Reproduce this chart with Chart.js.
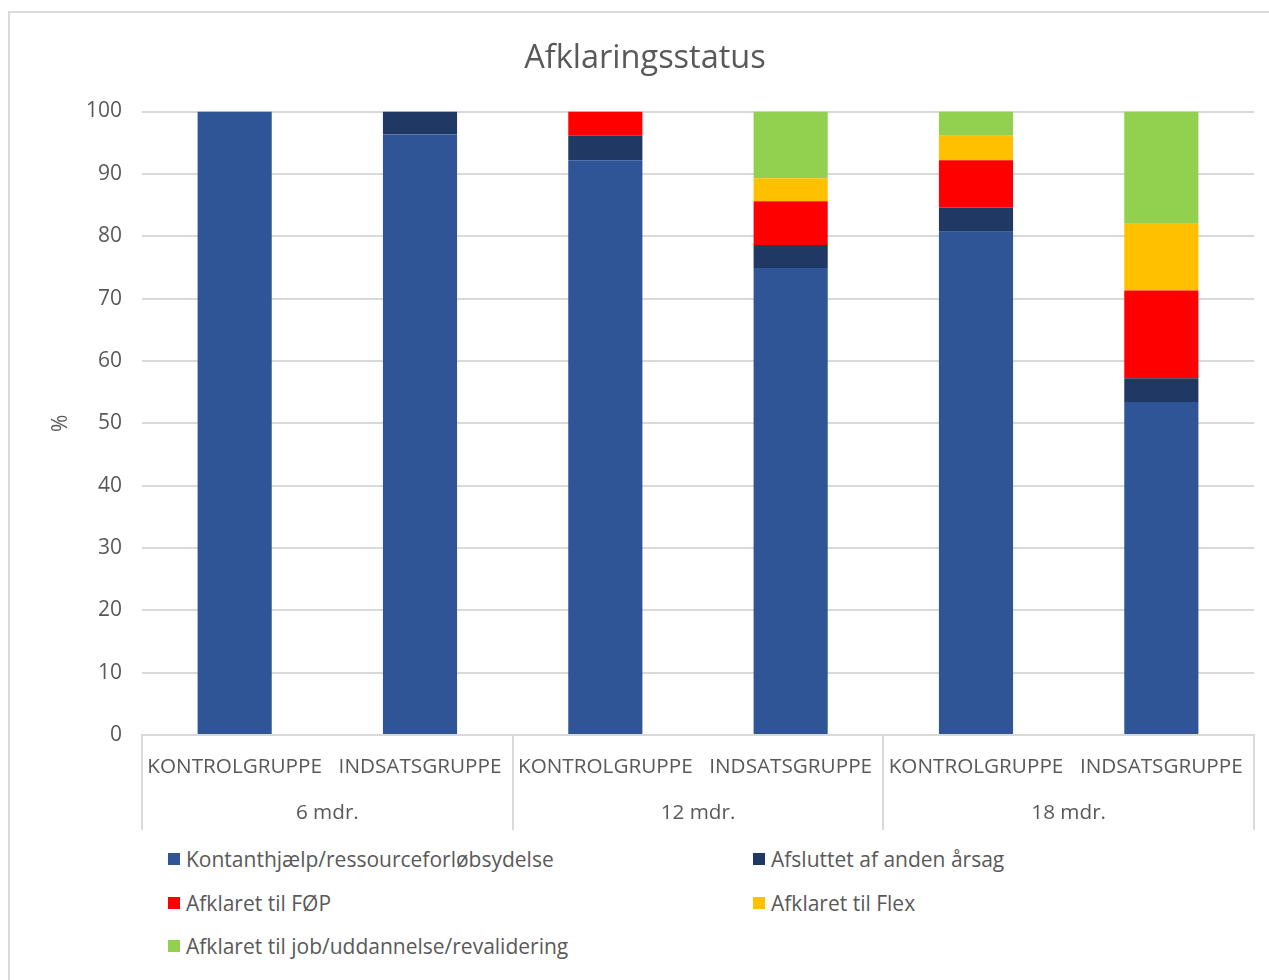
<!DOCTYPE html>
<html>
<head>
<meta charset="utf-8">
<script src="https://cdn.jsdelivr.net/npm/chart.js@4.4.1/dist/chart.umd.min.js"></script>
<style>
  html, body { margin: 0; padding: 0; background: #fff; }
  body { width: 1269px; height: 980px; position: relative; overflow: hidden; font-family: "Open Sans", sans-serif; }
  #frame { position: absolute; left: 8px; top: 11px; width: 1300px; height: 1000px; border: 2px solid #d9d9d9; }
  #wrap { position: absolute; left: 0; top: 0; width: 1269px; height: 832px; }
  #legend { position: absolute; left: 0; top: 836px; width: 1269px; }
  .item { position: absolute; display: flex; align-items: center; font-size: 21px; color: #595959; white-space: nowrap; line-height: 24px; }
  .box { width: 12px; height: 12px; margin-right: 6px; }
</style>
</head>
<body>
<div id="frame"></div>
<div id="wrap"><canvas id="chart" width="1269" height="832"></canvas></div>
<div id="legend"></div>
<script>
// Categories (lower row) and period groups (upper row)
const categories = ['KONTROLGRUPPE', 'INDSATSGRUPPE', 'KONTROLGRUPPE', 'INDSATSGRUPPE', 'KONTROLGRUPPE', 'INDSATSGRUPPE'];
const periods = ['6 mdr.', '12 mdr.', '18 mdr.'];

// Share of people (%) per status
const kontanthjaelp = [100, 96.3, 92.2, 74.9, 80.7, 53.4];
const afsluttet     = [0, 3.7, 3.9, 3.7, 3.9, 3.8];
const foep          = [0, 0, 3.9, 7.0, 7.6, 14.1];
const flex          = [0, 0, 0, 3.7, 3.9, 10.7];
const job           = [0, 0, 0, 10.7, 3.9, 18.0];

const seriesNames = [
  'Kontanthjælp/ressourceforløbsydelse',
  'Afsluttet af anden årsag',
  'Afklaret til FØP',
  'Afklaret til Flex',
  'Afklaret til job/uddannelse/revalidering'
];
const seriesColors = ['#2F5597', '#203864', '#FF0000', '#FFC000', '#92D050'];
const seriesValues = [kontanthjaelp, afsluttet, foep, flex, job];

const textColor = '#595959';
const lineColor = '#d9d9d9';

function build() {
  Chart.defaults.font.family = '"Open Sans", sans-serif';
  Chart.defaults.color = textColor;

  const datasets = seriesNames.map((name, i) => ({
    label: name,
    data: seriesValues[i],
    backgroundColor: seriesColors[i],
    borderWidth: 0,
    barPercentage: 0.4,
    categoryPercentage: 1.0
  }));

  const chart = new Chart(document.getElementById('chart'), {
    type: 'bar',
    data: { labels: categories, datasets },
    options: {
      responsive: false,
      animation: false,
      devicePixelRatio: 1,
      layout: { padding: { left: 36, right: 15, top: 22, bottom: 2 } },
      plugins: {
        legend: { display: false },
        tooltip: { enabled: false },
        title: {
          display: true,
          text: 'Afklaringsstatus',
          color: textColor,
          font: { size: 32.5, weight: 'normal' },
          padding: { top: 17.5, bottom: 33 }
        }
      },
      scales: {
        x: {
          type: 'category',
          stacked: true,
          offset: true,
          border: { display: true, color: lineColor, width: 2 },
          grid: {
            offset: true,
            drawOnChartArea: false,
            drawTicks: true,
            tickLength: 55,
            lineWidth: 2,
            color: (c) => (c.index === undefined || c.index % 2 === 0) ? lineColor : 'rgba(0,0,0,0)'
          },
          ticks: { autoSkip: false, maxRotation: 0, padding: -35, font: { size: 20.7 }, color: textColor },
          afterFit: (s) => { s.height = 55; }
        },
        x2: {
          type: 'category',
          labels: periods,
          position: 'bottom',
          offset: true,
          border: { display: false },
          grid: {
            offset: true,
            drawOnChartArea: false,
            drawTicks: true,
            tickLength: 40,
            lineWidth: 2,
            color: lineColor
          },
          ticks: { autoSkip: false, maxRotation: 0, padding: -29, font: { size: 20.7 }, color: textColor },
          afterFit: (s) => { s.height = 40; }
        },
        y: {
          stacked: true,
          min: 0,
          max: 100,
          border: { display: false },
          grid: { color: lineColor, lineWidth: 2, drawTicks: false },
          ticks: { stepSize: 10, padding: 20, font: { size: 21 }, color: textColor },
          title: { display: true, text: '%', color: textColor, font: { size: 21 }, padding: { top: 12, bottom: 0 } },
          afterFit: (s) => { s.width = 106; }
        }
      }
    }
  });

  // Legend in two columns, built from the chart's datasets
  const legend = document.getElementById('legend');
  const colX = [168, 753];
  const rowY = [11, 55, 98];
  chart.data.datasets.forEach((ds, i) => {
    const item = document.createElement('div');
    item.className = 'item';
    item.style.left = colX[i % 2] + 'px';
    item.style.top = rowY[Math.floor(i / 2)] + 'px';
    const box = document.createElement('span');
    box.className = 'box';
    box.style.background = ds.backgroundColor;
    const txt = document.createElement('span');
    txt.textContent = ds.label;
    item.appendChild(box);
    item.appendChild(txt);
    legend.appendChild(item);
  });
}

if (document.fonts && document.fonts.load) {
  Promise.all([
    document.fonts.load('21px "Open Sans"'),
    document.fonts.load('32px "Open Sans"')
  ]).then(build, build);
} else {
  build();
}
</script>
</body>
</html>
